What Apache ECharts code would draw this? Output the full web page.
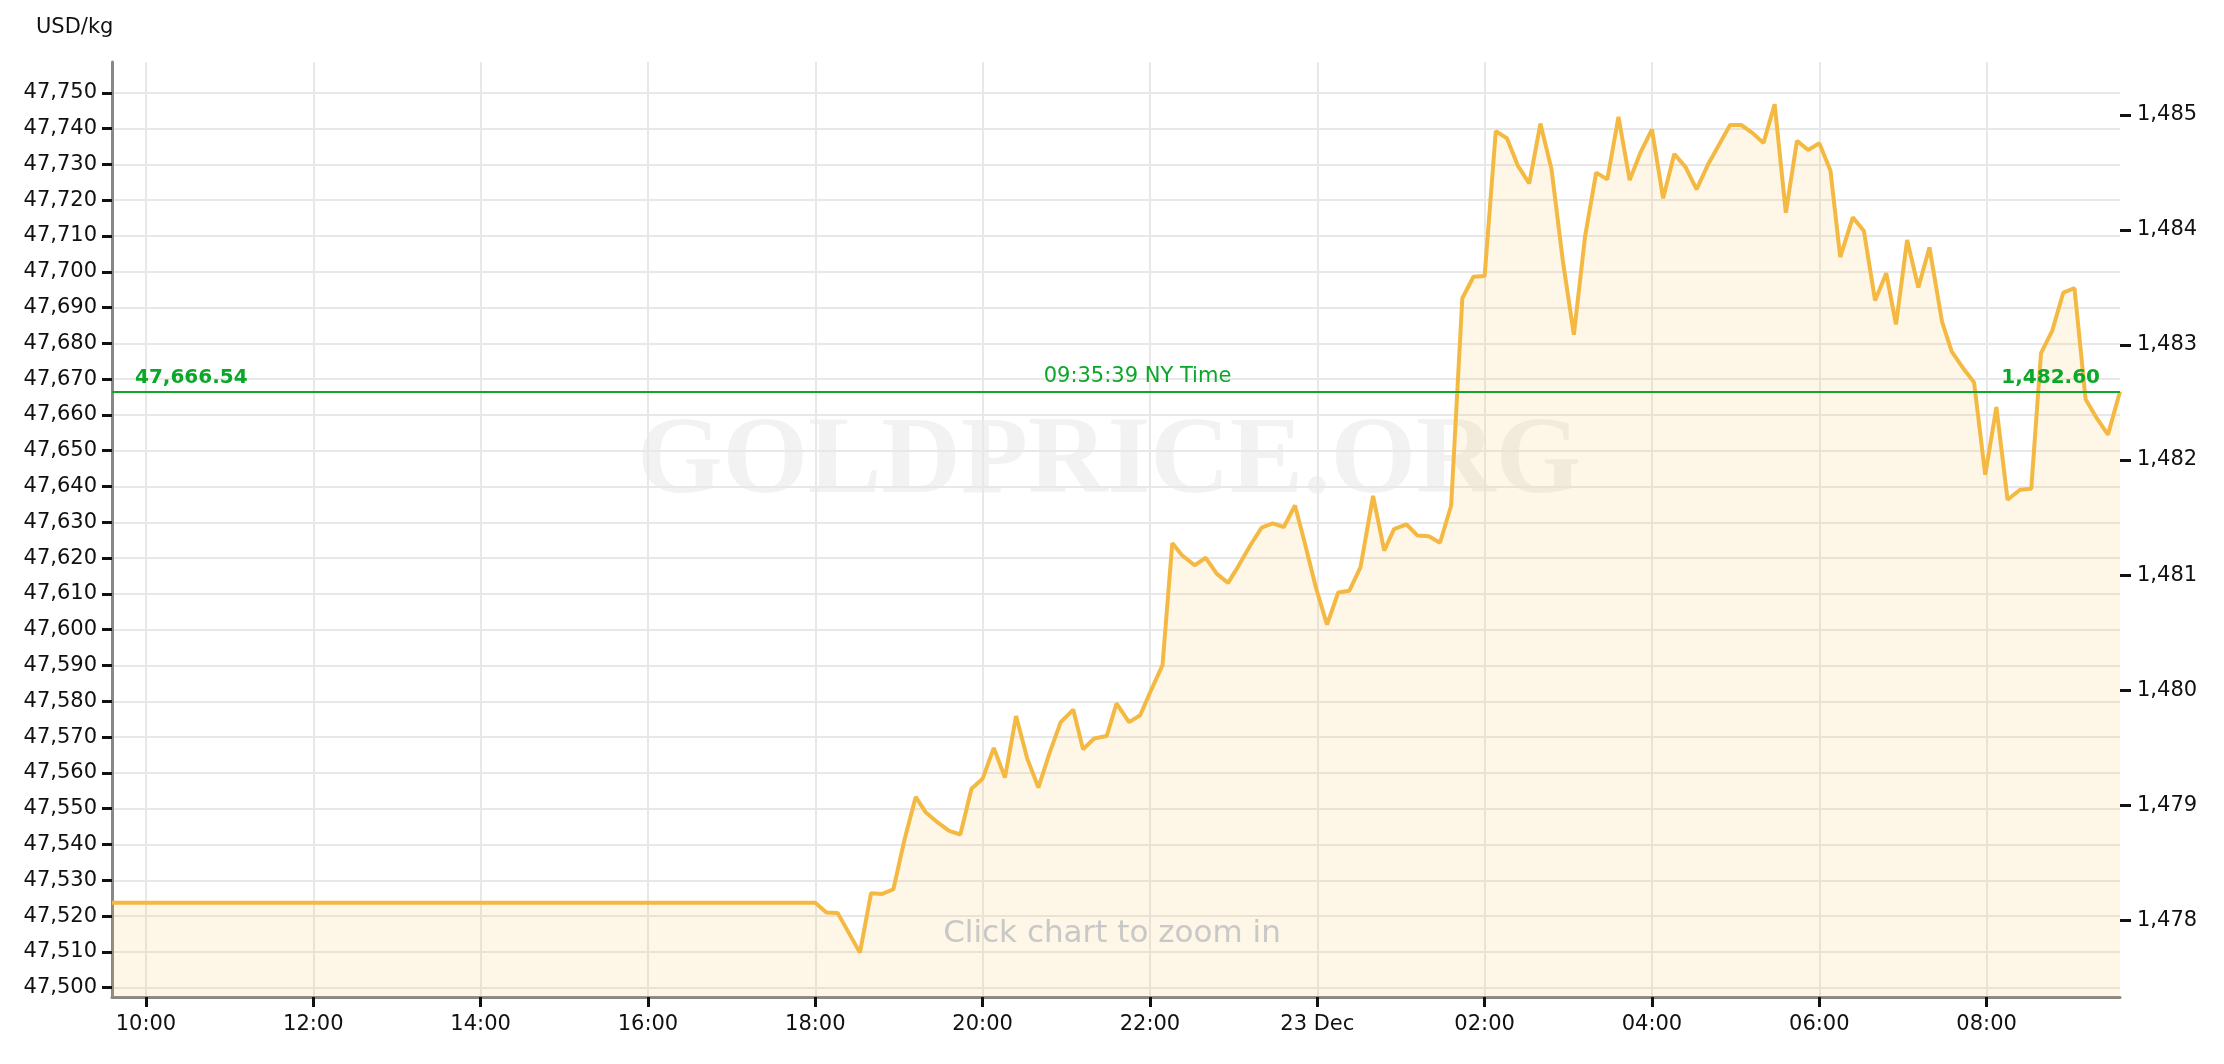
<!DOCTYPE html>
<html>
<head>
<meta charset="utf-8">
<title>Gold price - USD/kg</title>
<script src="https://cdn.jsdelivr.net/npm/echarts@6/dist/echarts.min.js"></script>
<style>
  html, body { margin: 0; padding: 0; background: #fff; }
  #chart { width: 2224px; height: 1064px; }
</style>
</head>
<body>
<div id="chart"></div>
<script>
// NY time of each quote ("day hh:mm[:ss]", December)
const times = [
  "22 09:35:39", "22 18:00", "22 18:08", "22 18:16", "22 18:32", "22 18:40", "22 18:48", "22 18:56",
  "22 19:04", "22 19:12", "22 19:19", "22 19:28", "22 19:36", "22 19:44", "22 19:52", "22 20:00",
  "22 20:08", "22 20:16", "22 20:24", "22 20:32", "22 20:40", "22 20:48", "22 20:56", "22 21:05",
  "22 21:12", "22 21:20", "22 21:29", "22 21:36", "22 21:45", "22 21:53", "22 22:00", "22 22:09",
  "22 22:16", "22 22:23", "22 22:32", "22 22:40", "22 22:48", "22 22:56", "22 23:03", "22 23:12",
  "22 23:20", "22 23:28", "22 23:36", "22 23:44", "22 23:51", "22 23:59", "23 00:07", "23 00:15",
  "23 00:23", "23 00:31", "23 00:40", "23 00:48", "23 00:55", "23 01:04", "23 01:12", "23 01:20",
  "23 01:28", "23 01:36", "23 01:44", "23 01:52", "23 02:00", "23 02:08", "23 02:16", "23 02:24",
  "23 02:32", "23 02:40", "23 02:48", "23 02:56", "23 03:04", "23 03:12", "23 03:20", "23 03:28",
  "23 03:36", "23 03:44", "23 03:52", "23 04:00", "23 04:08", "23 04:16", "23 04:24", "23 04:32",
  "23 04:40", "23 04:48", "23 04:56", "23 05:04", "23 05:12", "23 05:20", "23 05:28", "23 05:36",
  "23 05:44", "23 05:52", "23 06:00", "23 06:08", "23 06:15", "23 06:24", "23 06:32", "23 06:40",
  "23 06:48", "23 06:55", "23 07:03", "23 07:11", "23 07:19", "23 07:28", "23 07:35", "23 07:44",
  "23 07:51", "23 07:59", "23 08:07", "23 08:15", "23 08:24", "23 08:32", "23 08:39", "23 08:47",
  "23 08:55", "23 09:03", "23 09:11", "23 09:19", "23 09:27", "23 09:35:39"
];
// gold price, USD/kg
const prices = [
  47523.7, 47523.7, 47521.0, 47520.9, 47509.8, 47526.4, 47526.2, 47527.5,
  47541.4, 47553.3, 47549.1, 47546.1, 47543.8, 47542.8, 47555.6, 47558.4,
  47567.0, 47558.7, 47575.9, 47564.0, 47555.9, 47565.6, 47574.2, 47577.7,
  47566.6, 47569.6, 47570.3, 47579.4, 47574.2, 47576.1, 47582.4, 47590.1,
  47624.2, 47620.8, 47618.0, 47620.1, 47615.6, 47613.1, 47617.5, 47623.6,
  47628.5, 47629.7, 47628.7, 47634.7, 47624.3, 47611.8, 47601.4, 47610.4,
  47610.9, 47617.5, 47637.4, 47622.1, 47628.1, 47629.4, 47626.3, 47626.1,
  47624.3, 47634.7, 47692.6, 47698.6, 47698.8, 47739.3, 47737.3, 47729.5,
  47724.7, 47741.4, 47728.6, 47703.3, 47682.4, 47709.8, 47727.7, 47725.8,
  47743.3, 47725.6, 47733.5, 47739.8, 47720.5, 47732.9, 47729.3, 47723.0,
  47729.8, 47735.4, 47741.0, 47741.0, 47738.8, 47736.0, 47746.8, 47716.5,
  47736.6, 47734.0, 47735.9, 47728.3, 47704.1, 47715.2, 47711.4, 47692.0,
  47699.6, 47685.3, 47708.9, 47695.6, 47706.8, 47686.1, 47677.7, 47672.6,
  47669.1, 47643.3, 47662.2, 47636.3, 47639.1, 47639.4, 47677.3, 47683.5,
  47694.2, 47695.4, 47664.4, 47659.1, 47654.5, 47666.54
];
// x ticks, hours counted from 22 Dec 00:00
const xTickHours = [10, 12, 14, 16, 18, 20, 22, 24, 26, 28, 30, 32];
const yTicksKg = [47500, 47510, 47520, 47530, 47540, 47550, 47560, 47570, 47580, 47590, 47600, 47610, 47620,
  47630, 47640, 47650, 47660, 47670, 47680, 47690, 47700, 47710, 47720, 47730, 47740, 47750];
const yTicksOz = [1478, 1479, 1480, 1481, 1482, 1483, 1484, 1485];
const lastPrice = 47666.54;
const lastPriceOz = 1482.60;
const lastTime = "09:35:39";

const OZ_PER_KG = 32.1507466;
const yMin = 47497.4;
const yMax = 47758.6;
const FONT = "DejaVu Sans";

// "22 18:08" -> hours since 22 Dec 00:00
function toHours(s) {
  const [day, hms] = s.split(" ");
  const p = hms.split(":").map(Number);
  return (Number(day) - 22) * 24 + p[0] + p[1] / 60 + (p[2] || 0) / 3600;
}
function fmt(v, d) {
  return v.toLocaleString("en-US", { minimumFractionDigits: d, maximumFractionDigits: d });
}
function pad(n) {
  return n < 10 ? "0" + n : "" + n;
}

const xStart = toHours(times[0]);
const xEnd = toHours(times[times.length - 1]);
const seriesData = times.map((t, i) => [toHours(t), prices[i]]);

const chart = echarts.init(document.getElementById("chart"));
chart.setOption({
  animation: false,
  backgroundColor: "#fff",
  title: {
    text: "USD/kg",
    left: 31,
    top: 12,
    textStyle: { fontFamily: FONT, fontSize: 21, fontWeight: "normal", color: "#111" }
  },
  grid: { left: 112, right: 104, top: 62, bottom: 67 },
  xAxis: {
    type: "value",
    min: xStart,
    max: xEnd,
    axisLine: { show: true, lineStyle: { color: "#888", width: 3 } },
    axisTick: { show: true, length: 10, customValues: xTickHours, lineStyle: { color: "#111", width: 3 } },
    axisLabel: {
      customValues: xTickHours,
      margin: 17,
      fontFamily: FONT,
      fontSize: 21,
      color: "#111",
      formatter: v => (Math.round(v) === 24 ? "23 Dec" : pad(Math.round(v) % 24) + ":00")
    },
    splitLine: { show: true, lineStyle: { color: "#e8e8e8", width: 2 } }
  },
  yAxis: [
    {
      type: "value",
      min: yMin,
      max: yMax,
      axisLine: { show: true, lineStyle: { color: "#888", width: 3 } },
      axisTick: { show: true, length: 10, customValues: yTicksKg, lineStyle: { color: "#111", width: 3 } },
      axisLabel: {
        customValues: yTicksKg,
        margin: 15,
        fontFamily: FONT,
        fontSize: 21,
        color: "#111",
        formatter: v => fmt(v, 0)
      },
      splitLine: { show: true, lineStyle: { color: "#e8e8e8", width: 2 } }
    },
    {
      // same scale in USD/oz
      type: "value",
      position: "right",
      min: yMin / OZ_PER_KG,
      max: yMax / OZ_PER_KG,
      axisLine: { show: false },
      axisTick: { show: true, length: 11, customValues: yTicksOz, lineStyle: { color: "#111", width: 3 } },
      axisLabel: {
        customValues: yTicksOz,
        margin: 17,
        fontFamily: FONT,
        fontSize: 21,
        color: "#111",
        formatter: v => fmt(v, 0)
      },
      splitLine: { show: false }
    }
  ],
  graphic: [
    {
      // watermark
      type: "text",
      z: -10,
      x: 1109,
      y: 464,
      style: {
        text: "GOLDPRICE.ORG",
        font: "bold 110px 'Liberation Serif'",
        fill: "rgba(0,0,0,0.05)",
        textAlign: "center",
        textVerticalAlign: "middle",
        verticalAlign: "middle"
      }
    },
    {
      type: "text",
      z: 100,
      x: 1112,
      y: 934,
      style: {
        text: "Click chart to zoom in",
        font: "31px 'DejaVu Sans'",
        fill: "#c8c8c8",
        textAlign: "center",
        textVerticalAlign: "middle",
        verticalAlign: "middle"
      }
    }
  ],
  series: [
    {
      type: "line",
      data: seriesData,
      symbol: "none",
      lineStyle: { color: "#f4b942", width: 4 },
      areaStyle: { color: "rgba(245,185,66,0.18)", origin: "start" },
      markLine: {
        silent: true,
        symbol: "none",
        lineStyle: { color: "#12a52a", width: 2, type: "solid" },
        label: { color: "#0aa828", fontFamily: FONT, fontSize: 20 },
        data: [
          {
            yAxis: lastPrice,
            label: { position: "insideStartTop", formatter: fmt(lastPrice, 2), fontWeight: "bold", distance: [23, 4] }
          },
          {
            yAxis: lastPrice,
            label: {
              position: "insideMiddleTop",
              formatter: lastTime + " NY Time",
              fontSize: 21,
              padding: [0, 0, 0, 43],
              distance: 4
            }
          },
          {
            yAxis: lastPrice,
            label: { position: "insideEndTop", formatter: fmt(lastPriceOz, 2), fontWeight: "bold", distance: [20, 4] }
          }
        ]
      }
    }
  ]
});
</script>
</body>
</html>
